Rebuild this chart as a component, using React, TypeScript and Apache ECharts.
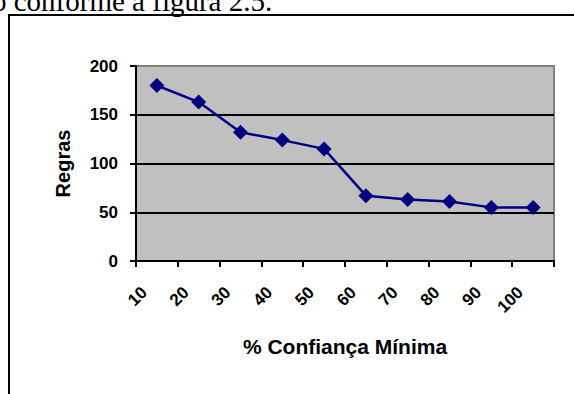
import React, { useEffect, useRef } from "react";
import * as echarts from "echarts";

const categories = ["10", "20", "30", "40", "50", "60", "70", "80", "90", "100"];
const regras = [180, 163, 132, 124, 115, 67, 63, 61, 55, 55];
const yTicks = { min: 0, max: 200, interval: 50 };
const xName = "% Confiança Mínima";
const yName = "Regras";
const topText = "o conforme a figura 2.5.";

export default function App() {
  const ref = useRef<HTMLDivElement>(null);
  useEffect(() => {
    if (!ref.current) return;
    const chart = echarts.init(ref.current, undefined, { renderer: "svg" });
    const font = "'Liberation Sans', Arial, sans-serif";
    chart.setOption({
      animation: false,
      backgroundColor: "#ffffff",
      graphic: [
        {
          type: "rect",
          shape: { x: 9, y: 15, width: 700, height: 500 },
          style: { fill: "none", stroke: "#000", lineWidth: 2 },
          z: 0,
        },
        {
          type: "text",
          x: -8,
          y: 15,
          style: {
            text: topText,
            font: "29px 'Liberation Serif', 'Times New Roman', serif",
            fill: "#000",
            verticalAlign: "bottom",
          },
        },
      ],
      grid: {
        left: 136,
        right: 20,
        top: 66,
        bottom: 133,
        show: true,
        backgroundColor: "#C0C0C0",
        borderColor: "#808080",
        borderWidth: 2,
      },
      xAxis: {
        type: "category",
        data: categories,
        boundaryGap: true,
        name: xName,
        nameLocation: "middle",
        nameGap: 75,
        nameTextStyle: { fontFamily: font, fontWeight: "bold", fontSize: 21, color: "#000" },
        axisLine: { lineStyle: { color: "#000", width: 2 } },
        axisTick: { show: true, length: 6, lineStyle: { color: "#000", width: 2 } },
        axisLabel: {
          rotate: 45,
          interval: 0,
          margin: 16,
          padding: [0, 18, 0, 0],
          fontFamily: font,
          fontWeight: "bold",
          fontSize: 17,
          color: "#000",
        },
      },
      yAxis: {
        type: "value",
        min: yTicks.min,
        max: yTicks.max,
        interval: yTicks.interval,
        name: yName,
        nameLocation: "middle",
        nameGap: 63,
        nameTextStyle: { fontFamily: font, fontWeight: "bold", fontSize: 20, color: "#000" },
        axisLine: { show: true, lineStyle: { color: "#000", width: 2 } },
        axisTick: { show: true, length: 6, lineStyle: { color: "#000", width: 2 } },
        axisLabel: { margin: 18, fontFamily: font, fontWeight: "bold", fontSize: 17, color: "#000" },
        splitLine: {
          show: true,
          lineStyle: { color: ["#000", "#000", "#000", "#000", "#808080"], width: 2 },
        },
      },
      series: [
        {
          type: "line",
          data: regras,
          symbol: "diamond",
          symbolSize: 15,
          itemStyle: { color: "#000080" },
          lineStyle: { color: "#000080", width: 2.5 },
          z: 5,
        },
      ],
    });
    return () => chart.dispose();
  }, []);
  return (
    <div
      ref={ref}
      style={{ position: "absolute", left: 0, top: 0, width: 574, height: 394 }}
    />
  );
}
